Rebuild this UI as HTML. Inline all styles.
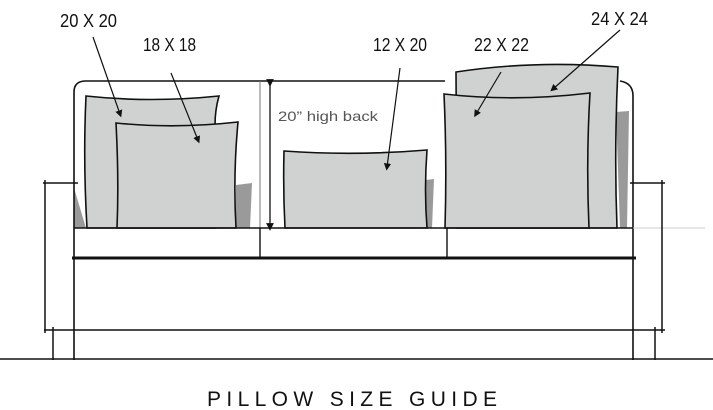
<!DOCTYPE html>
<html><head><meta charset="utf-8"><style>
html,body{margin:0;padding:0;background:#fff;}
svg{display:block;}
text{font-family:"Liberation Sans",sans-serif;}
</style></head><body>
<svg width="713" height="410" viewBox="0 0 713 410" xmlns="http://www.w3.org/2000/svg">
<defs><marker id="a" markerWidth="6" markerHeight="6" refX="3" refY="3" orient="auto"><path d="M0,0 L6,3 L0,6 z" fill="#111"/></marker></defs>
<g fill="#9a9a9a">
<polygon points="74,188 86,228 74,228"/>
<polygon points="236,185 252,183 250,228 236,228"/>
<polygon points="426,180 434,179 432,228 426,228"/>
<polygon points="588,110 594,110 592,228 586,228"/>
<polygon points="616,112 629,111 627,228 620,228"/>
</g>
<g fill="none" stroke="#111" stroke-width="1.6">
<path d="M74,228 L74,92 Q74,81 86,81 L445,81"/>
<path d="M620,81 Q633,83 633,96 L633,360"/>
<line x1="74" y1="228" x2="74" y2="360"/>
</g>
<line x1="260" y1="81" x2="260" y2="228" stroke="#777" stroke-width="1"/>
<line x1="270" y1="83" x2="270" y2="227" stroke="#111" stroke-width="1.3" marker-start="url(#a)" marker-end="url(#a)"/>
<g fill="#d0d1d1" stroke="#111" stroke-width="1.6">
<path d="M457,228 L456,72 Q535,60 618,67 Q614,150 617,228 Z"/>
<path d="M87,228 Q83,160 86,96 Q150,103 219,96 Q215,110 215,125 L215,228 Z"/>
<path d="M117,228 Q119,180 116,123 Q175,129 238,122 Q233,175 236,228 Z"/>
<path d="M285,228 Q283,190 284,151 Q355,156 427,150 Q424,190 427,228 Z"/>
<path d="M445,228 Q447,160 444,94 Q515,102 590,93 Q586,160 589,228 Z"/>
</g>
<g stroke="#111" fill="none">
<line x1="74" y1="228" x2="633" y2="228" stroke-width="1.6"/>
<line x1="260" y1="228" x2="260" y2="258" stroke-width="1.4"/>
<line x1="447" y1="228" x2="447" y2="258" stroke-width="1.4"/>
<line x1="72" y1="258" x2="636" y2="258" stroke-width="3"/>
<line x1="44" y1="330" x2="665" y2="330" stroke-width="1.4"/>
<line x1="0" y1="359" x2="713" y2="359" stroke-width="1.6"/>
<line x1="633" y1="228" x2="705" y2="228" stroke="#ccc" stroke-width="1"/>
<line x1="43" y1="183" x2="78" y2="183" stroke-width="1.5"/>
<line x1="45" y1="180" x2="45" y2="333" stroke-width="1.5"/>
<line x1="53" y1="327" x2="53" y2="360" stroke-width="1.5"/>
<line x1="630" y1="183" x2="665" y2="183" stroke-width="1.5"/>
<line x1="662" y1="180" x2="662" y2="333" stroke-width="1.5"/>
<line x1="655" y1="327" x2="655" y2="360" stroke-width="1.5"/>
</g>
<g stroke="#111" stroke-width="1.2" marker-end="url(#a)">
<line x1="93" y1="37" x2="120" y2="114"/>
<line x1="171" y1="73" x2="198" y2="140"/>
<line x1="400" y1="68" x2="387" y2="167"/>
<line x1="501" y1="72" x2="476" y2="114"/>
<line x1="620" y1="30" x2="553" y2="89"/>
</g>
<g font-size="18" fill="#111">
<text x="60" y="27" textLength="57" lengthAdjust="spacingAndGlyphs">20 X 20</text>
<text x="143" y="51" textLength="53" lengthAdjust="spacingAndGlyphs">18 X 18</text>
<text x="373" y="51" textLength="54" lengthAdjust="spacingAndGlyphs">12 X 20</text>
<text x="474" y="51" textLength="55" lengthAdjust="spacingAndGlyphs">22 X 22</text>
<text x="591" y="25" textLength="57" lengthAdjust="spacingAndGlyphs">24 X 24</text>
</g>
<text x="278" y="121" font-size="14" fill="#555" textLength="100" lengthAdjust="spacingAndGlyphs">20” high back</text>
<text x="207" y="406" font-size="21" fill="#111" textLength="290" lengthAdjust="spacing">PILLOW SIZE GUIDE</text>
</svg>
</body></html>
